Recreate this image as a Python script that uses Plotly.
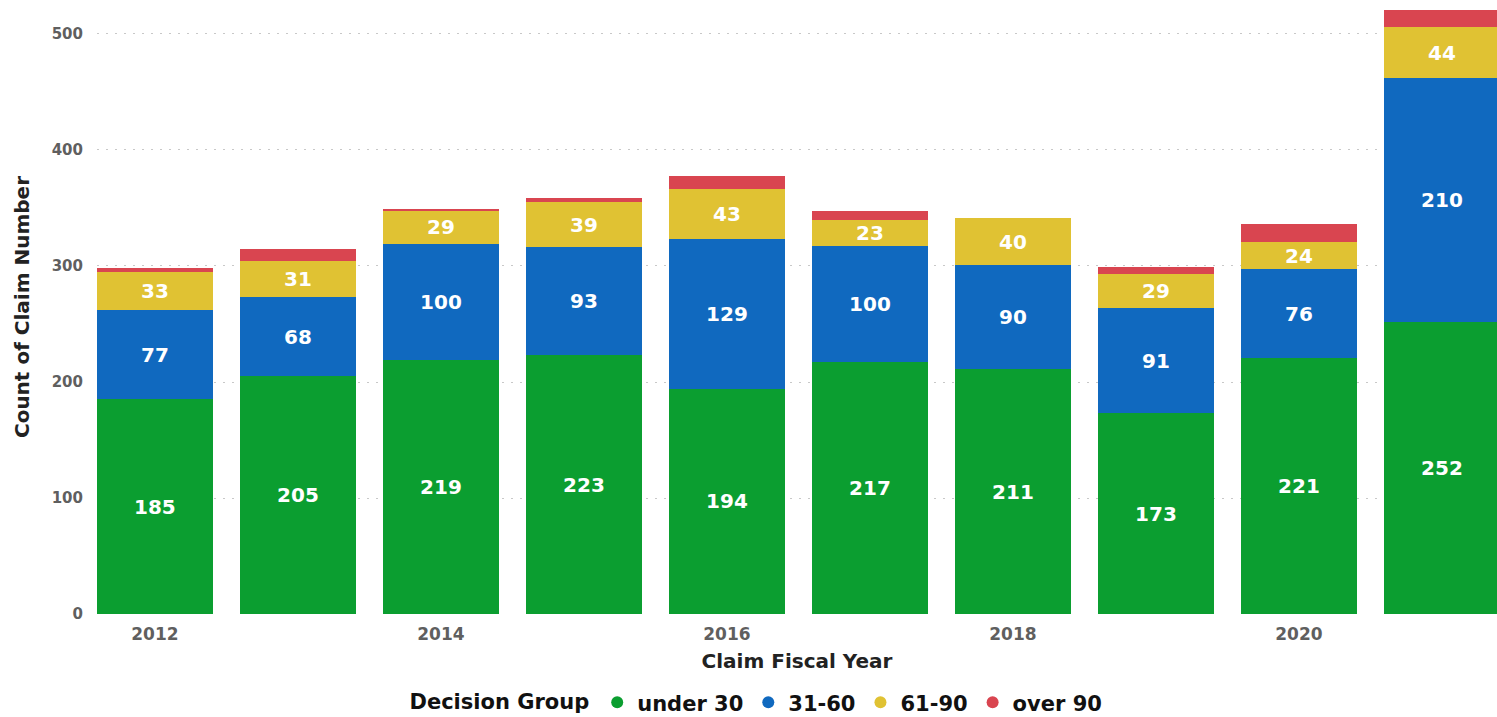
import plotly.graph_objects as go

years = [2012, 2013, 2014, 2015, 2016, 2017, 2018, 2019, 2020, 2021]
under_30 = [185, 205, 219, 223, 194, 217, 211, 173, 221, 252]
d31_60 = [77, 68, 100, 93, 129, 100, 90, 91, 76, 210]
d61_90 = [33, 31, 29, 39, 43, 23, 40, 29, 24, 44]
over_90 = [3, 11, 1, 4, 12, 7, 0, 6, 15, 15]

series = [
    ("under 30", under_30, "#0B9E30", True),
    ("31-60", d31_60, "#1069BF", True),
    ("61-90", d61_90, "#E0C233", True),
    ("over 90", over_90, "#D94550", False),
]

FONT = "DejaVu Sans, Liberation Sans, sans-serif"
fig = go.Figure()
for name, vals, color, show_text in series:
    fig.add_trace(go.Bar(
        x=years, y=vals, name=name, marker_color=color, marker_line_width=0,
        text=[str(v) for v in vals] if show_text else None,
        texttemplate="%{text}" if show_text else None,
        textposition="inside" if show_text else "none",
        insidetextanchor="middle", textangle=0, constraintext="none",
        textfont=dict(family=FONT, size=20, color="white", weight="bold"),
        showlegend=False, hoverinfo="x+y+name",
    ))
for name, vals, color, _ in series:
    fig.add_trace(go.Scatter(
        x=[None], y=[None], mode="markers", name=name,
        marker=dict(symbol="circle", size=11, color=color),
        showlegend=True,
    ))

fig.update_layout(
    width=1497, height=717,
    barmode="stack", bargap=0.19,
    plot_bgcolor="white", paper_bgcolor="white",
    margin=dict(l=97, r=0, t=0, b=103),
    font=dict(family=FONT),
    xaxis=dict(
        range=[2011.595, 2021.385], tickmode="array",
        tickvals=[2012, 2014, 2016, 2018, 2020],
        ticktext=["2012", "2014", "2016", "2018", "2020"],
        showgrid=False, zeroline=False, showline=False,
        ticks="outside", ticklen=5, tickcolor="rgba(0,0,0,0)",
        tickfont=dict(family=FONT, size=17, color="#5f5f5f", weight="bold"),
        title=dict(text="Claim Fiscal Year", standoff=10,
                   font=dict(family=FONT, size=20, color="#222222", weight="bold")),
    ),
    yaxis=dict(
        range=[0, 529.3], tickvals=[0, 100, 200, 300, 400, 500],
        showgrid=True, gridcolor="#c8c8c8", griddash="2px,7px", gridwidth=1,
        zeroline=False, showline=False,
        ticks="outside", ticklen=10, tickcolor="rgba(0,0,0,0)",
        tickfont=dict(family=FONT, size=15, color="#5f5f5f", weight="bold"),
        title=dict(text="Count of Claim Number", standoff=16,
                   font=dict(family=FONT, size=20, color="#222222", weight="bold")),
    ),
    legend=dict(
        orientation="h", xref="container", yref="container",
        x=0.506, xanchor="center", y=0.02, yanchor="middle",
        traceorder="normal",
        title=dict(text="Decision Group", font=dict(family=FONT, size=21, color="#111111", weight="bold")),
        font=dict(family=FONT, size=21, color="#111111", weight="bold"),
        itemsizing="constant", itemwidth=30, tracegroupgap=0,
    ),
)

fig.write_html("out.html", config={"displayModeBar": False},
               post_script="document.body.style.margin='0';document.body.style.overflow='hidden';")
